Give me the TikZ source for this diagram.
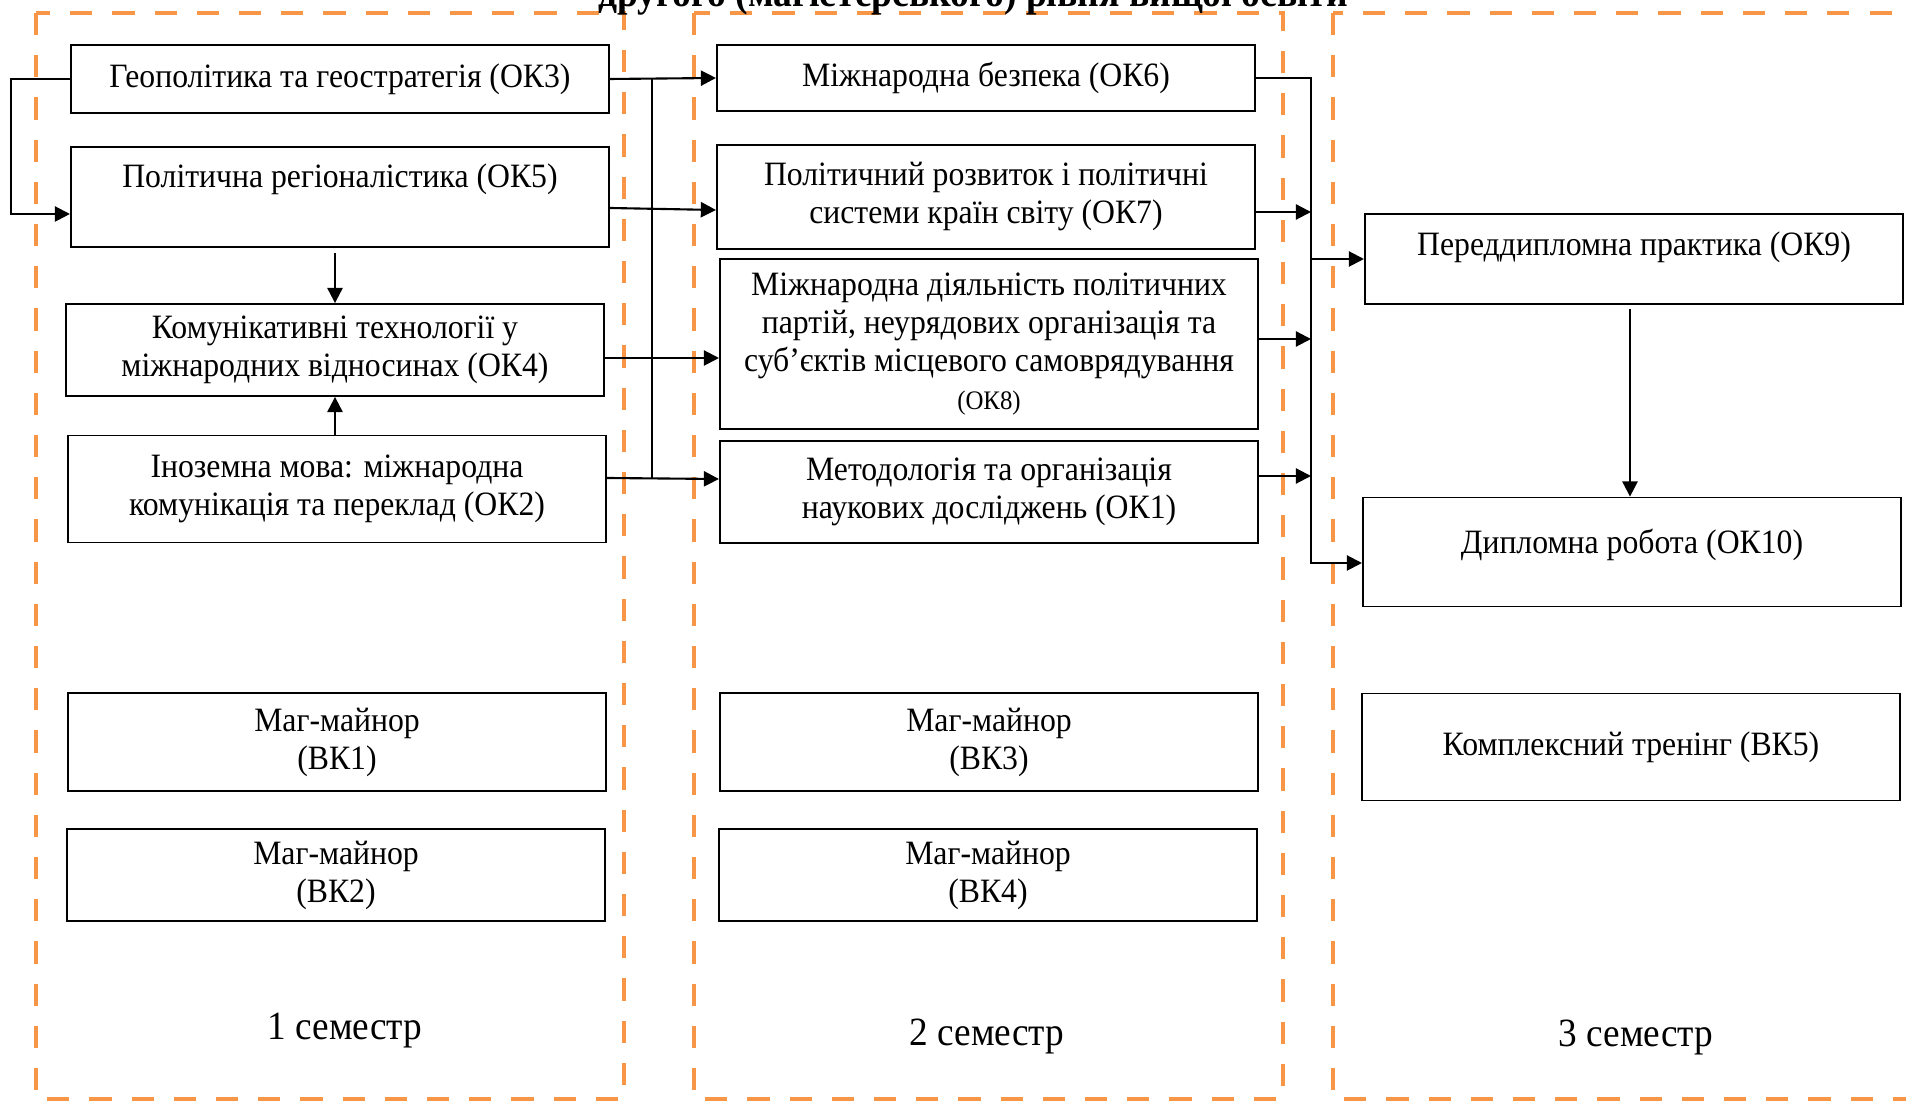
\documentclass[tikz,border=0pt]{standalone}
\usepackage{fontspec}
\setmainfont{Liberation Serif}[FakeStretch=0.93]
\usetikzlibrary{arrows.meta,calc}
\definecolor{framecol}{RGB}{247,150,70}

\begin{document}
\begin{tikzpicture}[x = 0.01cm, y = -0.01cm, >={Triangle[length=4.3pt, width=4.3pt]},
  every node/.style={font=\fontsize{9.7}{10.8}\selectfont, align = center},
  box/.style={draw, line width=0.5pt, inner sep=0pt, minimum width=5.38cm},
  frame/.style={draw=framecol, line width=1.4pt, dash pattern=on 6.3pt off 5.7pt},
  link/.style={line width=0.6pt},
  semlabel/.style={font=\fontsize{11.4}{13}\selectfont}]

  \useasboundingbox (0, 0) rectangle (1906, 1101);
  \clip (0, 0) rectangle (1906, 1101);

  \draw [frame] (36, 13) rectangle (624, 1099);
  \draw [frame] (694, 13) rectangle (1283, 1099);
  \draw [frame] (1333, 13) rectangle (1940, 1099);

  \node [font=\fontsize{11.5}{13}\selectfont\bfseries, anchor=base] (title) at (973, 7) {другого (магістерського) рівня вищої освіти};

  \node [box, minimum height=0.68cm] (ok3) at (340, 79) {Геополітика та геостратегія (ОК3)};
  \node [box, minimum height=1cm, text height=6.6pt, text depth=12pt] (ok5) at (340, 197) {Політична регіоналістика (ОК5)};
  \node [box, minimum height=0.92cm] (ok4) at (335, 350) {Комунікативні технології у\\ міжнародних відносинах (ОК4)};
  \node [box, minimum height=1.07cm] (ok2) at (337, 489) {Іноземна мова: міжнародна\\ комунікація та переклад (ОК2)};
  \node [box, minimum height=0.98cm] (vk1) at (337, 742) {Маг-майнор\\ (ВК1)};
  \node [box, minimum height=0.92cm] (vk2) at (336, 875) {Маг-майнор\\ (ВК2)};

  \node [box, minimum height=0.66cm] (ok6) at (986, 78) {Міжнародна безпека (ОК6)};
  \node [box, minimum height=1.04cm] (ok7) at (986, 197) {Політичний розвиток і політичні\\ системи країн світу (ОК7)};
  \node [box, minimum height=1.7cm] (ok8) at (989, 344) {Міжнародна діяльність політичних\\ партій, неурядових організація та\\ суб’єктів місцевого самоврядування\\ {\fontsize{7.6}{10.8}\selectfont (ОК8)}};
  \node [box, minimum height=1.02cm] (ok1) at (989, 492) {Методологія та організація\\ наукових досліджень (ОК1)};
  \node [box, minimum height=0.98cm] (vk3) at (989, 742) {Маг-майнор\\ (ВК3)};
  \node [box, minimum height=0.92cm] (vk4) at (988, 875) {Маг-майнор\\ (ВК4)};

  \node [box, minimum height=0.9cm, text height=6.6pt, text depth=8.6pt] (ok9) at (1634, 259) {Переддипломна практика (ОК9)};
  \node [box, minimum height=1.09cm, text height=6.6pt, text depth=6pt] (ok10) at (1632, 552) {Дипломна робота (ОК10)};
  \node [box, minimum height=1.07cm] (vk5) at (1631, 747) {Комплексний тренінг (ВК5)};

  \node [semlabel] (sem1) at (345, 1031) {1 семестр};
  \node [semlabel] (sem2) at (987, 1036) {2 семестр};
  \node [semlabel] (sem3) at (1636, 1037) {3 семестр};

  \coordinate (bus1) at (652, 0);
  \coordinate (bus2) at (1311, 0);
  \coordinate (ok2out) at ($(ok2.east)+(0, -11)$);
  \coordinate (ok7out) at ($(ok7.east)+(0, 15)$);
  \coordinate (ok8out) at ($(ok8.east)+(0, -5)$);
  \coordinate (ok1out) at ($(ok1.east)+(0, -16)$);
  \coordinate (ok10in) at ($(ok10.west)+(0, 11)$);

  \draw [link, ->] (ok3.west) -- ++(-59, 0) |- ($(ok5.west)+(0, 17)$);
  \draw [link, ->] ($(ok5.south)+(-5, 5)$) -- (ok4.north);
  \draw [link, ->] ($(ok2.north)+(-2, 0)$) -- (ok4.south);

  \draw [thin] (ok3.east -| bus1) -- (ok2out -| bus1);
  \draw [link, ->] (ok3.east) -- (ok6.west);
  \draw [link, ->] ($(ok5.east)+(0, 11)$) -- ($(ok7.west)+(0, 13)$);
  \draw [link, ->] ($(ok4.east)+(0, 8)$) -- ($(ok8.west)+(0, 14)$);
  \draw [link, ->] (ok2out) -- ($(ok1.west)+(0, -13)$);

  \draw [link, ->] (ok6.east) -| (bus2 |- ok10in) -- (ok10in);
  \draw [link, ->] (ok7out) -- (ok7out -| bus2);
  \draw [link, ->] (ok8out) -- (ok8out -| bus2);
  \draw [link, ->] (ok1out) -- (ok1out -| bus2);
  \draw [link, ->] (bus2 |- ok9.west) -- (ok9.west);
  \draw [link, ->] ($(ok9.south)+(-4, 4)$) -- ($(ok10.north)+(-2, 0)$);

\end{tikzpicture}
\end{document}
